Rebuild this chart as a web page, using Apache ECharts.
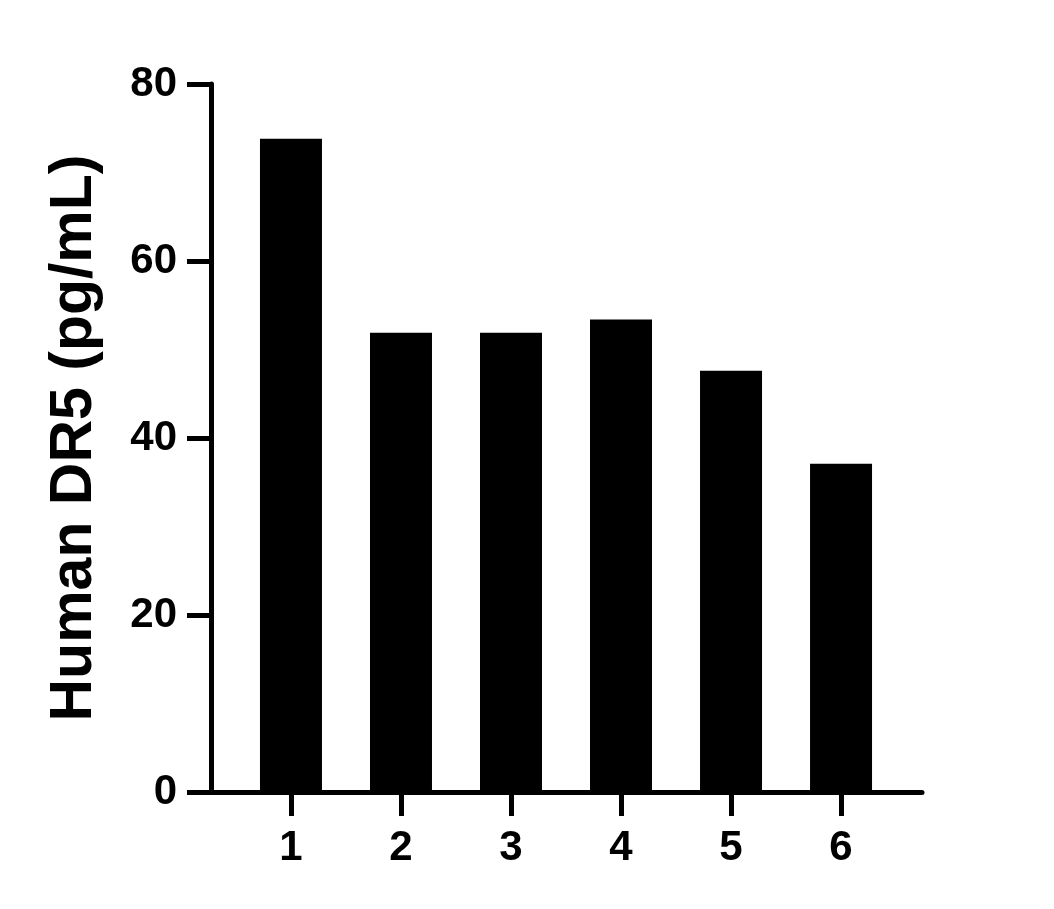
<!DOCTYPE html>
<html lang="en">
<head>
    <meta charset="UTF-8">
    <title>Human DR5</title>
    <script src="https://cdn.jsdelivr.net/npm/echarts@6.0.0/dist/echarts.min.js"></script>
    <style>
        html, body { margin: 0; padding: 0; background: #fff; }
        #chart { width: 1054px; height: 909px; }
    </style>
</head>
<body>
    <div id="chart"></div>
    <script>
        // Sample numbers and measured concentrations
        var samples = [1, 2, 3, 4, 5, 6];
        var values = [73.8, 51.9, 51.9, 53.4, 47.6, 37.1];
        var yTicks = [0, 20, 40, 60, 80];

        var chart = echarts.init(document.getElementById('chart'));
        var font = '"Liberation Sans", Arial, sans-serif';

        var option = {
            animation: false,
            grid: { left: 211, right: 132, top: 84, bottom: 117 },
            xAxis: {
                type: 'value',
                min: 0.273,
                max: 6.736,
                splitLine: { show: false },
                axisLine: { lineStyle: { color: '#000', width: 5 } },
                axisTick: {
                    customValues: samples,
                    length: 24,
                    lineStyle: { color: '#000', width: 5 }
                },
                axisLabel: {
                    customValues: samples,
                    margin: 35,
                    color: '#000',
                    fontSize: 42,
                    fontWeight: 'bold',
                    fontFamily: font
                }
            },
            yAxis: {
                type: 'value',
                min: 0,
                max: 80,
                interval: 20,
                name: 'Human DR5 (pg/mL)',
                nameLocation: 'middle',
                nameGap: 107,
                nameTextStyle: {
                    color: '#000',
                    fontSize: 59,
                    fontWeight: 'bold',
                    fontFamily: font
                },
                splitLine: { show: false },
                axisLine: { show: true, lineStyle: { color: '#000', width: 5 } },
                axisTick: { show: true, length: 24, lineStyle: { color: '#000', width: 5 } },
                axisLabel: {
                    margin: 34,
                    color: '#000',
                    fontSize: 42,
                    fontWeight: 'bold',
                    fontFamily: font,
                    customValues: yTicks
                }
            },
            series: [{
                type: 'bar',
                barWidth: 62,
                itemStyle: { color: '#000' },
                data: samples.map(function (s, i) { return [s, values[i]]; })
            }]
        };

        chart.setOption(option);
    </script>
</body>
</html>
